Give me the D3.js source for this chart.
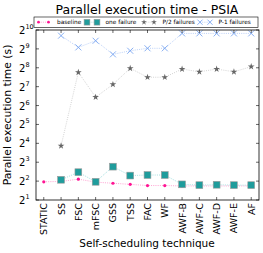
<!DOCTYPE html>
<html>
<head>
<meta charset="utf-8">
<script src="https://cdn.jsdelivr.net/npm/d3@7"></script>
<style>
  body { margin: 0; background: #fff; }
  text { font-family: "DejaVu Sans", sans-serif; fill: #000; }
</style>
</head>
<body>
<script>
// techniques on the x axis
let techniques = ["STATIC", "SS", "FSC", "mFSC", "GSS", "TSS", "FAC", "WF",
  "AWF-B", "AWF-C", "AWF-D", "AWF-E", "AF"];

// execution times in seconds, null = no run
let baseline = [3.9, 3.95, 4.3, 3.85, 3.7, 3.55, 3.4, 3.4, 3.35, 3.35, 3.35, 3.35, 3.35];
let oneFailure = [null, 4.2, 5.55, 3.9, 6.8, 4.9, 5.0, 5.0, 3.55, 3.45, 3.5, 3.45, 3.45];
let halfFailures = [null, 14.6, 217, 87, 139, 251, 181, 181, 244, 221, 244, 221, 267];
let pm1Failures = [null, 832, 541, 690, 419, 478, 523, 523, 904, 904, 904, 904, 904];

let yTicks = [1, 2, 3, 4, 5, 6, 7, 8, 9, 10];

let W = 263, H = 253;
let margin = { top: 30, right: 4, bottom: 53, left: 36 },
  width = W - margin.left - margin.right,
  height = H - margin.top - margin.bottom;

let svg = d3.select("body").append("svg")
  .attr("width", W)
  .attr("height", H);

let g = svg.append("g")
  .attr("transform", "translate(" + margin.left + "," + margin.top + ")");

let x = d3.scalePoint().domain(techniques).range([0, width]).padding(0.45);
let y = d3.scaleLog().base(2).domain([2, 1024]).range([height, 0]);

let series = [
  { name: "baseline", values: baseline, color: "#ff1493", line: "#ff8cc8", marker: "dot" },
  { name: "one failure", values: oneFailure, color: "#1f9c9c", line: "#8fd8d8", marker: "square" },
  { name: "P/2 failures", values: halfFailures, color: "#666666", line: "#c8c8c8", marker: "star" },
  { name: "P-1 failures", values: pm1Failures, color: "#7aa6f0", line: "#a9c4f5", marker: "cross" }
];

function drawMarker(sel, type, color, k) {
  k = k || 1;
  if (type == "dot") {
    sel.append("circle").attr("r", 1.6 * k).attr("fill", color);
  } else if (type == "square") {
    sel.append("rect").attr("x", -3.4 * k).attr("y", -3.4 * k)
      .attr("width", 6.8 * k).attr("height", 6.8 * k)
      .attr("fill", color).attr("stroke", "#999").attr("stroke-width", 0.6);
  } else if (type == "star") {
    sel.append("path")
      .attr("d", d3.symbol().type(d3.symbolStar).size(14 * k * k))
      .attr("fill", color);
  } else {
    let r = 3 * k;
    sel.append("path")
      .attr("d", "M" + -r + "," + -r + "L" + r + "," + r + "M" + -r + "," + r + "L" + r + "," + -r)
      .attr("stroke", color).attr("stroke-width", 0.9).attr("fill", "none");
  }
}

let line = d3.line()
  .defined((d) => d.v != null)
  .x((d) => x(d.t))
  .y((d) => y(d.v));

series.forEach(function (s) {
  let pts = techniques.map((t, i) => ({ t: t, v: s.values[i] }));
  g.append("path")
    .datum(pts)
    .attr("d", line)
    .attr("fill", "none")
    .attr("stroke", s.line)
    .attr("stroke-width", 0.8)
    .attr("stroke-dasharray", "1,1.2");
  pts.filter((d) => d.v != null).forEach(function (d) {
    let m = g.append("g")
      .attr("transform", "translate(" + x(d.t) + "," + y(d.v) + ")");
    drawMarker(m, s.marker, s.color);
  });
});

// frame
g.append("rect")
  .attr("width", width).attr("height", height)
  .attr("fill", "none").attr("stroke", "#000").attr("stroke-width", 0.8);

// inward ticks on all four sides
techniques.forEach(function (t) {
  g.append("line").attr("x1", x(t)).attr("x2", x(t)).attr("y1", height).attr("y2", height - 3)
    .attr("stroke", "#000").attr("stroke-width", 0.6);
  g.append("line").attr("x1", x(t)).attr("x2", x(t)).attr("y1", 0).attr("y2", 3)
    .attr("stroke", "#000").attr("stroke-width", 0.6);
  g.append("text")
    .attr("transform", "translate(" + (x(t) + 3.5) + "," + (height + 3) + ") rotate(-90)")
    .attr("text-anchor", "end")
    .attr("font-size", 9.5)
    .text(t);
});

yTicks.forEach(function (k) {
  let yy = y(Math.pow(2, k));
  g.append("line").attr("x1", 0).attr("x2", 3).attr("y1", yy).attr("y2", yy)
    .attr("stroke", "#000").attr("stroke-width", 0.6);
  g.append("line").attr("x1", width).attr("x2", width - 3).attr("y1", yy).attr("y2", yy)
    .attr("stroke", "#000").attr("stroke-width", 0.6);
  let lab = g.append("text")
    .attr("x", -17).attr("y", yy + 4)
    .attr("text-anchor", "start")
    .attr("font-size", 10);
  lab.append("tspan").text("2");
  lab.append("tspan").attr("dy", -5).attr("font-size", 6.5).text(k);
});

// axis titles
svg.append("text")
  .attr("x", 147).attr("y", 247)
  .attr("text-anchor", "middle")
  .attr("font-size", 10.5)
  .text("Self-scheduling technique");

svg.append("text")
  .attr("transform", "translate(11," + (margin.top + height / 2) + ") rotate(-90)")
  .attr("text-anchor", "middle")
  .attr("font-size", 10.8)
  .text("Parallel execution time (s)");

svg.append("text")
  .attr("x", 147).attr("y", 14)
  .attr("text-anchor", "middle")
  .attr("font-size", 12.5)
  .text("Parallel execution time - PSIA");

// legend above the frame
let leg = svg.append("g").attr("transform", "translate(34,17)");
leg.append("rect").attr("width", 224).attr("height", 10.5)
  .attr("fill", "#fff").attr("stroke", "#000").attr("stroke-width", 0.6);
let legX = [4.5, 53, 110, 166];
series.forEach(function (s, i) {
  let e = leg.append("g").attr("transform", "translate(" + legX[i] + ",5.2)");
  e.append("line").attr("x1", 0).attr("x2", 10).attr("stroke", s.line)
    .attr("stroke-width", 0.8).attr("stroke-dasharray", "1,1.2");
  drawMarker(e.append("g"), s.marker, s.color, 0.85);
  drawMarker(e.append("g").attr("transform", "translate(10,0)"), s.marker, s.color, 0.85);
  e.append("text").attr("x", 18.5).attr("y", 2.1).attr("font-size", 5.8).text(s.name);
});
</script>
</body>
</html>
